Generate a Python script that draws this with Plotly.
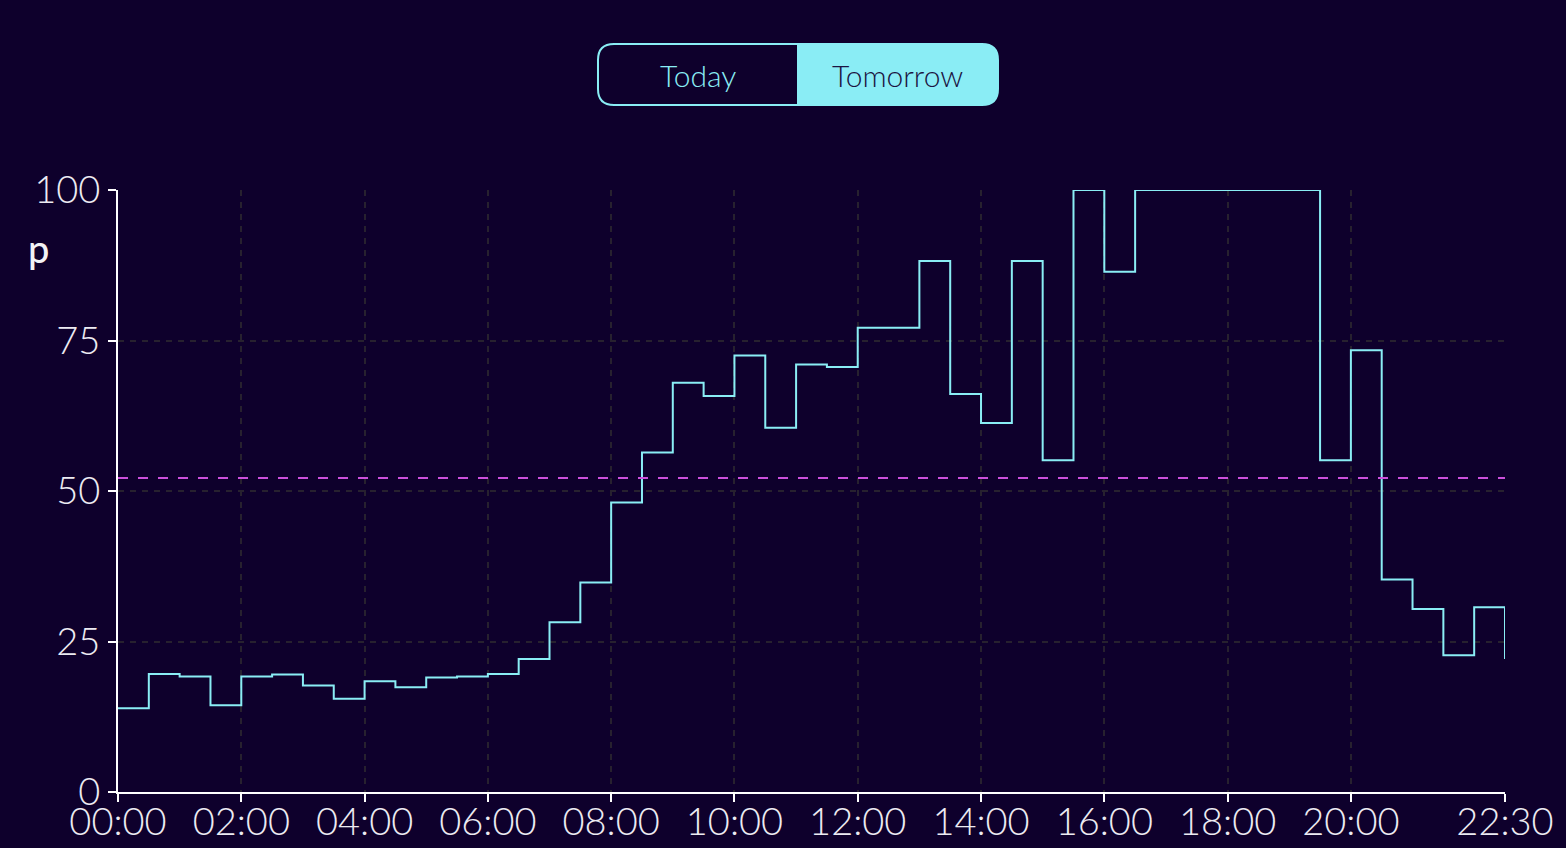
import pandas as pd
import plotly.graph_objects as go

# Half-hourly unit prices for tomorrow (p/kWh), capped at 100
slots = ["00:00", "00:30", "01:00", "01:30", "02:00", "02:30", "03:00", "03:30",
         "04:00", "04:30", "05:00", "05:30", "06:00", "06:30", "07:00", "07:30",
         "08:00", "08:30", "09:00", "09:30", "10:00", "10:30", "11:00", "11:30",
         "12:00", "12:30", "13:00", "13:30", "14:00", "14:30", "15:00", "15:30",
         "16:00", "16:30", "17:00", "17:30", "18:00", "18:30", "19:00", "19:30",
         "20:00", "20:30", "21:00", "21:30", "22:00", "22:30"]
prices = [13.9, 19.6, 19.2, 14.4, 19.2, 19.5, 17.7, 15.5,
          18.4, 17.4, 19.0, 19.2, 19.6, 22.1, 28.2, 34.8,
          48.1, 56.4, 68.0, 65.8, 72.5, 60.5, 71.0, 70.6,
          77.1, 77.1, 88.2, 66.1, 61.3, 88.2, 55.1, 100.0,
          86.4, 100.0, 100.0, 100.0, 100.0, 100.0, 100.0, 55.1,
          73.4, 35.3, 30.4, 22.7, 30.7, 22.1]
tick_labels = ["00:00", "02:00", "04:00", "06:00", "08:00", "10:00",
               "12:00", "14:00", "16:00", "18:00", "20:00", "22:30"]
y_ticks = [0, 25, 50, 75, 100]
buttons = ["Today", "Tomorrow"]

DAY = "2024-01-02 "
x = pd.to_datetime([DAY + s for s in slots])
tickvals = pd.to_datetime([DAY + t for t in tick_labels])
avg = sum(prices) / len(prices)

BG = "#0e002c"
CYAN = "#8aedf5"
GRID = "#27212f"
FONT = "Lato, Open Sans, sans-serif"

# plot area in pixels (for placing the toggle above the chart)
L, R, T, B = 118, 1505, 190, 792


def px(xp, yp):
    return f"{(xp - L) / (R - L):.5f},{(B - yp) / (B - T):.5f}"


def rounded(x0, y0, x1, y1, r, left=True, right=True):
    p = ""
    if left:
        p += f"M{px(x0, y0 + r)} Q{px(x0, y0)} {px(x0 + r, y0)} "
    else:
        p += f"M{px(x0, y0)} "
    if right:
        p += (f"L{px(x1 - r, y0)} Q{px(x1, y0)} {px(x1, y0 + r)} "
              f"L{px(x1, y1 - r)} Q{px(x1, y1)} {px(x1 - r, y1)} ")
    else:
        p += f"L{px(x1, y0)} L{px(x1, y1)} "
    if left:
        p += f"L{px(x0 + r, y1)} Q{px(x0, y1)} {px(x0, y1 - r)} Z"
    else:
        p += f"L{px(x0, y1)} Z"
    return p


fig = go.Figure()
fig.add_trace(go.Scatter(
    x=x, y=prices, mode="lines", line=dict(shape="hv", color=CYAN, width=2),
    hoverinfo="skip", showlegend=False))

fig.add_shape(type="line", xref="x", yref="y", x0=x[0], x1=x[-1], y0=avg, y1=avg,
              line=dict(color="#cc50dc", width=2, dash="10px,10px"))

# Today / Tomorrow toggle
bx0, bx1, bmid, by0, by1 = 598, 998, 797, 44, 105
fig.add_shape(type="path", xref="paper", yref="paper",
              path=rounded(bmid, by0, bx1, by1, 16, left=False),
              fillcolor=CYAN, line=dict(width=0), layer="above")
fig.add_shape(type="path", xref="paper", yref="paper",
              path=rounded(bx0, by0, bx1, by1, 16),
              fillcolor="rgba(0,0,0,0)", line=dict(color=CYAN, width=2), layer="above")

for i, (label, col) in enumerate(zip(buttons, [CYAN, "#1b1442"])):
    cx = (bx0 + bmid) / 2 if i == 0 else (bmid + bx1) / 2
    fig.add_annotation(xref="paper", yref="paper", xanchor="center", yanchor="middle",
                       x=(cx - L) / (R - L), y=(B - 75) / (B - T),
                       text=label, showarrow=False,
                       font=dict(family=FONT, size=30, color=col, weight=300))

fig.add_annotation(xref="paper", yref="paper", xanchor="center", yanchor="middle",
                   x=(38 - L) / (R - L), y=(B - 248) / (B - T),
                   text="p", showarrow=False,
                   font=dict(family=FONT, size=38, color="#f2f2f6", weight=500))

fig.update_layout(
    width=1566, height=848,
    margin=dict(l=L, r=1566 - R, t=T, b=848 - B),
    paper_bgcolor=BG, plot_bgcolor=BG,
    font=dict(family=FONT, size=38, color="#ecebf2", weight=300),
    xaxis=dict(
        range=[x[0], x[-1]], tickmode="array", tickvals=tickvals, ticktext=tick_labels,
        showline=True, linecolor="#ffffff", linewidth=2,
        ticks="outside", ticklen=8, tickwidth=2, tickcolor="#ffffff",
        showgrid=True, gridcolor=GRID, gridwidth=2, griddash="6px,6px",
        zeroline=False, fixedrange=True, automargin=False, ticklabelstandoff=-13),
    yaxis=dict(
        range=[0, 100], tickvals=y_ticks,
        showline=True, linecolor="#ffffff", linewidth=2,
        ticks="outside", ticklen=8, tickwidth=2, tickcolor="#ffffff",
        showgrid=True, gridcolor=GRID, gridwidth=2, griddash="6px,6px",
        zeroline=False, fixedrange=True, automargin=False),
)

fig.write_html("out.html", config={"displayModeBar": False},
               post_script="document.body.style.margin='0';"
                           "document.body.style.background='" + BG + "';")
